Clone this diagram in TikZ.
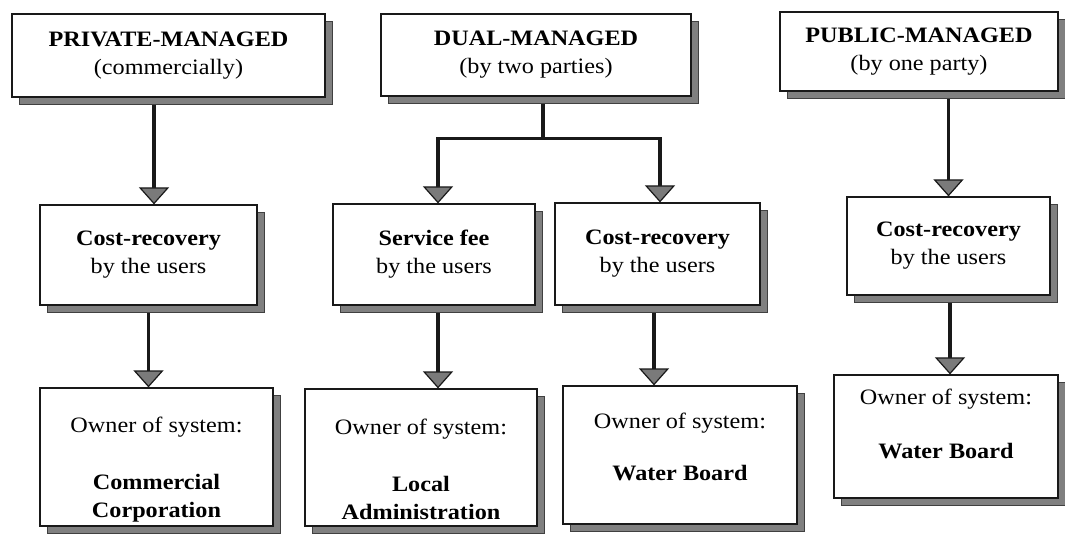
\documentclass[tikz,border=0pt]{standalone}
\usepackage{fontspec}
\setmainfont{Liberation Serif}[FakeStretch=1.1]
\usetikzlibrary{arrows.meta,shadows,backgrounds}
\begin{document}
\begin{tikzpicture}[x=1pt,y=-1pt,
  box/.style={draw=black!90, line width=1.2pt, fill=white, inner sep=0pt, align=center,
    font=\fontsize{22}{28}\selectfont,
    drop shadow={shadow xshift=7pt, shadow yshift=-7pt, fill=black!50, draw=black!75, line width=0.8pt, opacity=1}},
  conn/.style={draw=black!90, line width=3.4pt,
    -{Triangle[width=30pt,length=17pt,fill=black!52,line width=1.2pt]}},
  joint/.style={draw=black!90, line width=3.4pt}]
\useasboundingbox (0,0) rectangle (1065,534);
% top row
\node[box, minimum width=313pt, minimum height=83pt] (pm) at (168.5,55.5) {\textbf{PRIVATE-MANAGED}\\(commercially)};
\node[box, minimum width=310pt, minimum height=82pt] (dm) at (536,55) {\textbf{DUAL-MANAGED}\\(by two parties)};
\node[box, minimum width=278pt, minimum height=79pt] (pub) at (919,51.5) {\textbf{PUBLIC-MANAGED}\\(by one party)};
% middle row
\node[box, minimum width=217pt, minimum height=100pt] (pc) at (148.5,255) {\textbf{Cost-recovery}\\by the users};
\node[box, minimum width=202pt, minimum height=101pt] (sf) at (434,254.5) {\textbf{Service fee}\\by the users};
\node[box, minimum width=205pt, minimum height=102pt] (dc) at (657.5,254) {\textbf{Cost-recovery}\\by the users};
\node[box, minimum width=203pt, minimum height=98pt] (uc) at (948.5,246) {\textbf{Cost-recovery}\\by the users};
% bottom row
\node[box, minimum width=233pt, minimum height=138pt] (po) at (156.5,457) {\rule{0pt}{40pt}Owner of system:\\[29pt]\textbf{Commercial}\\\textbf{Corporation}};
\node[box, minimum width=232pt, minimum height=137pt] (lo) at (421,457.5) {\rule{0pt}{40pt}Owner of system:\\[29pt]\textbf{Local}\\\textbf{Administration}};
\node[box, minimum width=234pt, minimum height=138pt] (do) at (680,455) {\rule{0pt}{26pt}Owner of system:\\[24pt]\textbf{Water Board}\\\mbox{}};
\node[box, minimum width=224pt, minimum height=123pt] (uo) at (946,436.5) {\rule{0pt}{18pt}Owner of system:\\[26pt]\textbf{Water Board}\\\mbox{}};
% connectors
\begin{pgfonlayer}{background}
\draw[conn] ([xshift=5.5pt]pc.north |- pm.south) -- ([xshift=5.5pt]pc.north);
\draw[conn] (pc.south) -- (pc.south |- po.north);
\draw[joint] ([xshift=7pt]dm.south) -- ++(0,42) coordinate (dj);
\draw[conn] (dj) -| ([xshift=4pt]sf.north);
\draw[conn] (dj) -| ([xshift=2.5pt]dc.north);
\draw[conn] ([xshift=4pt]sf.south) -- ([xshift=4pt]sf.south |- lo.north);
\draw[conn] ([xshift=-3.5pt]dc.south) -- ([xshift=-3.5pt]dc.south |- do.north);
\draw[conn] (uc.north |- pub.south) -- (uc.north);
\draw[conn] ([xshift=1.5pt]uc.south) -- ([xshift=1.5pt]uc.south |- uo.north);
\end{pgfonlayer}
\end{tikzpicture}
\end{document}
